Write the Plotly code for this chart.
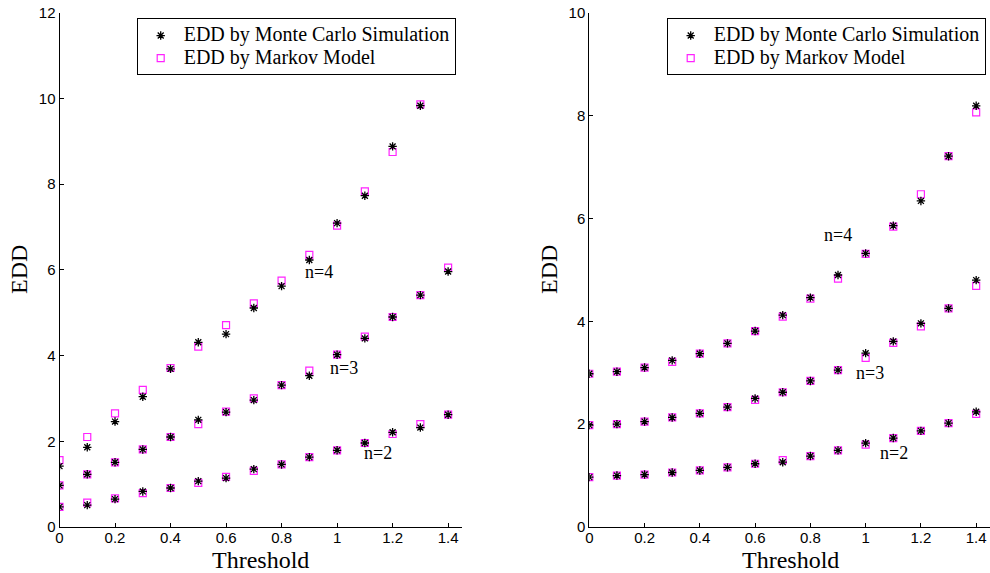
import plotly.graph_objects as go

threshold = [0.0, 0.1, 0.2, 0.3, 0.4, 0.5, 0.6, 0.7, 0.8, 0.9, 1.0, 1.1, 1.2, 1.3, 1.4]
threshold_n4_left = threshold[:14]

# Left panel
left_mc_n4 = [1.42, 1.86, 2.46, 3.04, 3.69, 4.31, 4.50, 5.11, 5.62, 6.23, 7.09, 7.73, 8.88, 9.83]
left_mk_n4 = [1.56, 2.10, 2.65, 3.20, 3.71, 4.21, 4.71, 5.22, 5.75, 6.35, 7.03, 7.83, 8.75, 9.86]
left_mc_n3 = [0.97, 1.23, 1.51, 1.81, 2.10, 2.50, 2.68, 2.96, 3.31, 3.53, 4.02, 4.40, 4.90, 5.41, 5.96]
left_mk_n3 = [0.97, 1.23, 1.51, 1.81, 2.10, 2.40, 2.69, 3.00, 3.31, 3.65, 4.02, 4.44, 4.90, 5.41, 6.05]
left_mc_n2 = [0.47, 0.51, 0.65, 0.83, 0.91, 1.07, 1.14, 1.35, 1.46, 1.63, 1.79, 1.96, 2.21, 2.32, 2.62]
left_mk_n2 = [0.47, 0.57, 0.67, 0.79, 0.91, 1.03, 1.17, 1.31, 1.46, 1.63, 1.79, 1.96, 2.17, 2.40, 2.62]

# Right panel
right_mc_n4 = [2.98, 3.02, 3.10, 3.24, 3.37, 3.57, 3.81, 4.12, 4.46, 4.90, 5.32, 5.86, 6.34, 7.21, 8.19]
right_mk_n4 = [2.98, 3.02, 3.10, 3.21, 3.37, 3.57, 3.81, 4.09, 4.44, 4.83, 5.31, 5.84, 6.47, 7.21, 8.06]
right_mc_n3 = [1.98, 2.00, 2.05, 2.13, 2.21, 2.33, 2.50, 2.62, 2.84, 3.05, 3.38, 3.61, 3.96, 4.25, 4.80]
right_mk_n3 = [1.98, 2.00, 2.05, 2.13, 2.21, 2.33, 2.47, 2.62, 2.84, 3.05, 3.29, 3.58, 3.90, 4.25, 4.69]
right_mc_n2 = [0.97, 1.00, 1.02, 1.06, 1.10, 1.16, 1.23, 1.26, 1.38, 1.49, 1.63, 1.73, 1.87, 2.02, 2.24]
right_mk_n2 = [0.97, 1.00, 1.02, 1.06, 1.10, 1.16, 1.23, 1.30, 1.38, 1.49, 1.60, 1.73, 1.87, 2.02, 2.20]

x_ticks = [0, 0.2, 0.4, 0.6, 0.8, 1, 1.2, 1.4]
x_tick_labels = ["0", "0.2", "0.4", "0.6", "0.8", "1", "1.2", "1.4"]

mc_name = "EDD by Monte Carlo Simulation"
mk_name = "EDD by Markov Model"

SERIF = "Liberation Serif, Times New Roman, serif"
SANS = "Liberation Sans, Arial, sans-serif"

W, H = 990, 573

fig = go.Figure()

star = dict(symbol="asterisk-open", size=7, color="black", line=dict(color="black", width=1.3))
square = dict(symbol="square-open", size=7, color="#ff22ff", line=dict(color="#ff22ff", width=1.2))

def big(t):
    return '<span style="font-size:20px">' + t + '</span>'

def add_panel(xa, ya, legend, series):
    first_mk = True
    for xs, ys in series["mk"]:
        fig.add_trace(go.Scatter(x=xs, y=ys, mode="markers", marker=square, name=big(mk_name),
                                 xaxis=xa, yaxis=ya, legend=legend, legendrank=2,
                                 showlegend=first_mk))
        first_mk = False
    first_mc = True
    for xs, ys in series["mc"]:
        fig.add_trace(go.Scatter(x=xs, y=ys, mode="markers", marker=star, name=big(mc_name),
                                 xaxis=xa, yaxis=ya, legend=legend, legendrank=1,
                                 showlegend=first_mc))
        first_mc = False

add_panel("x", "y", "legend", {
    "mc": [(threshold_n4_left, left_mc_n4), (threshold, left_mc_n3), (threshold, left_mc_n2)],
    "mk": [(threshold_n4_left, left_mk_n4), (threshold, left_mk_n3), (threshold, left_mk_n2)],
})
add_panel("x2", "y2", "legend2", {
    "mc": [(threshold, right_mc_n4), (threshold, right_mc_n3), (threshold, right_mc_n2)],
    "mk": [(threshold, right_mk_n4), (threshold, right_mk_n3), (threshold, right_mk_n2)],
})

axis_common = dict(showline=True, linecolor="black", linewidth=1, ticks="inside", ticklen=4,
                   tickcolor="black", tickwidth=1, showgrid=False, zeroline=False,
                   automargin=False,
                   tickfont=dict(family=SANS, size=15, color="black"))

ydom = [1 - 527 / H, 1 - 12.7 / H]
leg_common = dict(xanchor="left", yanchor="top", bgcolor="white", bordercolor="black",
                  borderwidth=1, font=dict(family=SERIF, size=15, color="black"),
                  tracegroupgap=0, itemwidth=36)
fig.update_layout(
    width=W, height=H,
    margin=dict(l=0, r=0, t=0, b=0, autoexpand=False),
    paper_bgcolor="white", plot_bgcolor="white",
    xaxis=dict(domain=[59.5 / W, 462 / W], range=[0, 1.45], tickvals=x_ticks,
               ticktext=x_tick_labels, anchor="y", ticklabelstandoff=-3, **axis_common),
    yaxis=dict(domain=ydom, range=[0, 12], dtick=2, anchor="x", **axis_common),
    xaxis2=dict(domain=[589.3 / W, 1.0], range=[0, 1.45], tickvals=x_ticks,
                ticktext=x_tick_labels, anchor="y2", ticklabelstandoff=-3, **axis_common),
    yaxis2=dict(domain=ydom, range=[0, 10], dtick=2, anchor="x2", **axis_common),
    legend=dict(x=136.7 / W, y=1 - 18.3 / H, **leg_common),
    legend2=dict(x=666.7 / W, y=1 - 18.3 / H, **leg_common),
    showlegend=True,
)

# axis titles
title_font = dict(family=SERIF, size=24, color="black")
for cx in (260 / W, 790 / W):
    fig.add_annotation(x=cx, y=0, xref="paper", yref="paper", text="Threshold",
                       showarrow=False, font=title_font, xanchor="center", yanchor="bottom",
                       borderpad=0, yshift=-1)
for cx in (19 / W, 549 / W):
    fig.add_annotation(x=cx, y=1 - 270 / H, xref="paper", yref="paper", text="EDD",
                       showarrow=False, font=title_font, textangle=-90,
                       xanchor="center", yanchor="middle")

labels = [
    ("x", "y", 0.935, 5.95, "n=4"),
    ("x", "y", 1.024, 3.70, "n=3"),
    ("x", "y", 1.148, 1.72, "n=2"),
    ("x2", "y2", 0.90, 5.68, "n=4"),
    ("x2", "y2", 1.016, 2.99, "n=3"),
    ("x2", "y2", 1.103, 1.43, "n=2"),
]
for xr, yr, lx, ly, txt in labels:
    fig.add_annotation(x=lx, y=ly, xref=xr, yref=yr, text=txt, showarrow=False,
                       font=dict(family=SERIF, size=18, color="black"))

fig.write_html("out.html")
